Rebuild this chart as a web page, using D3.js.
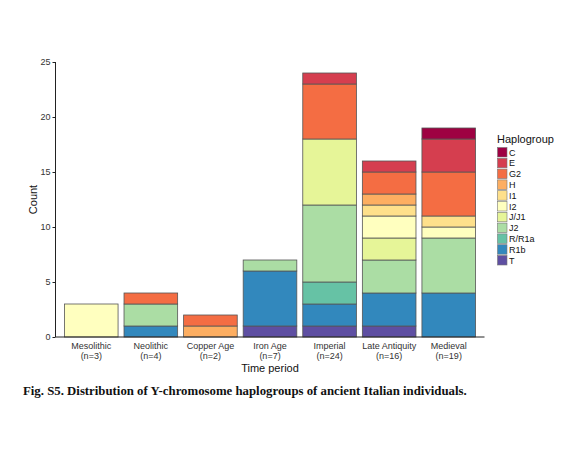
<!DOCTYPE html>
<html><head><meta charset="utf-8">
<script src="https://cdn.jsdelivr.net/npm/d3@7"></script>
<style>body{margin:0;background:#fff}</style>
</head><body>
<svg id="c" width="561" height="450"></svg>
<script>
const periods = ["Mesolithic","Neolithic","Copper Age","Iron Age","Imperial","Late Antiquity","Medieval"];
const sampleN = [3,4,2,7,24,16,19];
const haplogroups = ["C","E","G2","H","I1","I2","J/J1","J2","R/R1a","R1b","T"];
const colors = ["#9e0142","#d53e4f","#f46d43","#fdae61","#fee08b","#ffffbf","#e6f598","#abdda4","#66c2a5","#3288bd","#5e4fa2"];
// counts per haplogroup, one value per period
const C_ =    [0,0,0,0,0,0,1];
const E_ =    [0,0,0,0,1,1,3];
const G2_ =   [0,1,1,0,5,2,4];
const H_ =    [0,0,1,0,0,1,0];
const I1_ =   [0,0,0,0,0,1,1];
const I2_ =   [3,0,0,0,0,2,1];
const J_J1 =  [0,0,0,0,6,2,0];
const J2_ =   [0,2,0,1,7,3,5];
const R_R1a = [0,0,0,0,2,0,0];
const R1b_ =  [0,1,0,5,2,3,4];
const T_ =    [0,0,0,1,1,1,0];
const yTicks = [0,5,10,15,20,25];

const series = [C_,E_,G2_,H_,I1_,I2_,J_J1,J2_,R_R1a,R1b_,T_];
const rows = periods.map((p,i)=>{const r={period:p}; haplogroups.forEach((h,j)=>r[h]=series[j][i]); return r;});
const stackOrder = haplogroups.slice().reverse(); // T at bottom
const stacked = d3.stack().keys(stackOrder)(rows);
const color = d3.scaleOrdinal().domain(haplogroups).range(colors);

const svg = d3.select("#c");
const L=55.5, R=484.5, T=62, B=337;
const x = d3.scaleBand().domain(periods).range([L,R]).paddingInner(0.1).paddingOuter(0.15);
const y = d3.scaleLinear().domain([0,25]).range([B,T]);

svg.append("g").selectAll("g").data(stacked).join("g")
  .attr("fill",d=>color(d.key))
  .selectAll("rect").data(d=>d.filter(s=>s[1]-s[0]>0)).join("rect")
  .attr("x",d=>x(d.data.period)).attr("width",x.bandwidth())
  .attr("y",d=>y(d[1])).attr("height",d=>y(d[0])-y(d[1]))
  .attr("stroke","#555").attr("stroke-width",0.8);

// y axis
const ya = svg.append("g").attr("transform",`translate(${L},0)`)
  .call(d3.axisLeft(y).tickValues(yTicks).tickSize(3).tickPadding(2));
ya.select(".domain").attr("stroke","#222").attr("d",`M0,${B}V${T}`);
ya.selectAll(".tick line").attr("stroke","#222");
ya.selectAll("text").attr("font-family","Liberation Sans, Arial, sans-serif").attr("font-size",9).attr("fill","#333");

// x axis
const xa = svg.append("g").attr("transform",`translate(0,${B})`)
  .call(d3.axisBottom(x).tickSize(0).tickFormat(""));
xa.select(".domain").attr("stroke","#222").attr("d",`M${L},0H${R}`);
xa.selectAll(".tick").each(function(d,i){
  const t=d3.select(this).append("text").attr("text-anchor","middle").attr("fill","#333")
    .attr("font-family","Liberation Sans, Arial, sans-serif").attr("font-size",9);
  t.append("tspan").attr("x",0).attr("y",12).text(d);
  t.append("tspan").attr("x",0).attr("y",22).text(`(n=${sampleN[i]})`);
});

svg.append("text").attr("x",(L+R)/2).attr("y",372).attr("text-anchor","middle")
  .attr("font-family","Liberation Sans, Arial, sans-serif").attr("font-size",11).attr("fill","#111").text("Time period");
svg.append("text").attr("transform",`translate(37,${(T+B)/2}) rotate(-90)`).attr("text-anchor","middle")
  .attr("font-family","Liberation Sans, Arial, sans-serif").attr("font-size",11).attr("fill","#111").text("Count");

// legend
const lg = svg.append("g").attr("transform","translate(497,147)");
lg.append("text").attr("x",0).attr("y",-4).attr("font-family","Liberation Sans, Arial, sans-serif")
  .attr("font-size",11).attr("fill","#111").text("Haplogroup");
haplogroups.forEach((h,i)=>{
  lg.append("rect").attr("x",0.5).attr("y",i*10.8+0.5).attr("width",9.5).attr("height",9.5)
    .attr("fill",color(h)).attr("stroke","#777").attr("stroke-width",0.6);
  lg.append("text").attr("x",12).attr("y",i*10.8+8.5).attr("font-family","Liberation Sans, Arial, sans-serif")
    .attr("font-size",9).attr("fill","#111").text(h);
});

svg.append("text").attr("x",23).attr("y",395).attr("font-family","Liberation Serif, Times New Roman, serif")
  .attr("font-weight","bold").attr("font-size",12.8).attr("fill","#111")
  .text("Fig. S5. Distribution of Y-chromosome haplogroups of ancient Italian individuals.");
</script>
</body></html>
